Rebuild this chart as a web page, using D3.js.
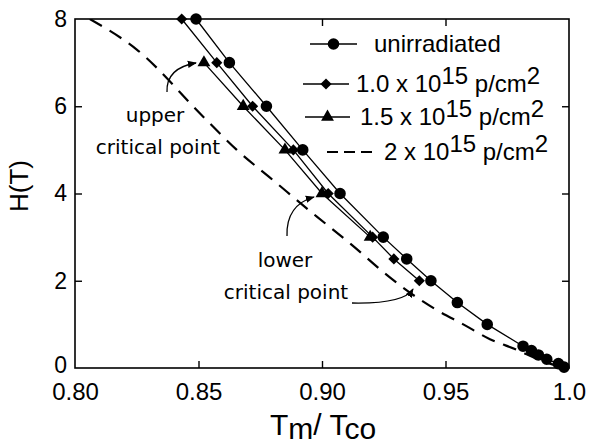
<!DOCTYPE html>
<html>
<head>
<meta charset="utf-8">
<script src="https://cdn.jsdelivr.net/npm/d3@7"></script>
<style>
  body { margin: 0; background: #fff; }
  svg { display: block; }
  text { font-family: Arial, "Liberation Sans", sans-serif; fill: #000; }
  .note { font-family: "DejaVu Sans", sans-serif; font-size: 20px; }
</style>
</head>
<body>
<div id="chart-container"></div>
<script>
// data: [Tm/Tco, H in tesla]
var unirradiated = [[0.849, 8], [0.8625, 7], [0.8775, 6], [0.8922, 5], [0.9073, 4],
    [0.9248, 3], [0.9343, 2.5], [0.9441, 2], [0.9548, 1.5], [0.9669, 1],
    [0.9814, 0.5], [0.9848, 0.4], [0.9876, 0.3], [0.991, 0.2], [0.9957, 0.1], [0.998, 0.02]];
var dose10 = [[0.8432, 8], [0.8574, 7], [0.8719, 6], [0.8884, 5], [0.9025, 4],
    [0.9205, 3], [0.9291, 2.5], [0.9394, 2]];
var dose15 = [[0.8522, 7], [0.8681, 6], [0.885, 5], [0.9, 4], [0.9195, 3]];
var dose20 = [[0.806, 8], [0.825, 7.3], [0.8519, 5.76], [0.8655, 5.0], [0.8803, 4.3],
    [0.8979, 3.47], [0.9113, 2.86], [0.9248, 2.2], [0.9343, 1.78], [0.9464, 1.33],
    [0.9572, 1.0], [0.968, 0.66], [0.9788, 0.42], [0.9883, 0.18], [0.997, 0.02]];

var xTicks = [0.80, 0.85, 0.90, 0.95, 1.0];
var xTickLabels = ["0.80", "0.85", "0.90", "0.95", "1.0"];
var yTicks = [0, 2, 4, 6, 8];
var legendLabels = [["unirradiated"], ["1.0 x 10", "15", " p/cm", "2"],
    ["1.5 x 10", "15", " p/cm", "2"], ["2 x 10", "15", " p/cm", "2"]];

var width = 590, height = 446;
var plotLeft = 75, plotRight = 569, plotTop = 19, plotBottom = 368;

var svg = d3.select("#chart-container").append("svg")
    .attr("width", width)
    .attr("height", height);

var x = d3.scaleLinear().domain([0.8, 1.0]).range([plotLeft, plotRight]);
var y = d3.scaleLinear().domain([0, 8]).range([plotBottom, plotTop]);

// frame
svg.append("rect")
    .attr("x", plotLeft).attr("y", plotTop)
    .attr("width", plotRight - plotLeft).attr("height", plotBottom - plotTop)
    .attr("fill", "none").attr("stroke", "#000").attr("stroke-width", 1.6);

// axes, ticks pointing inward
var xAxis = svg.append("g").attr("transform", "translate(0," + plotBottom + ")")
    .call(d3.axisBottom(x).tickValues(xTicks).tickSize(-7).tickPadding(15)
        .tickFormat(function(d, i) { return xTickLabels[i]; }));
var xAxisTop = svg.append("g").attr("transform", "translate(0," + plotTop + ")")
    .call(d3.axisTop(x).tickValues([0.90, 0.95]).tickSize(-7).tickFormat(""));
var yAxis = svg.append("g").attr("transform", "translate(" + plotLeft + ",0)")
    .call(d3.axisLeft(y).tickValues(yTicks).tickSize(-7).tickPadding(14));
var yAxisRight = svg.append("g").attr("transform", "translate(" + plotRight + ",0)")
    .call(d3.axisRight(y).tickValues([2, 4, 6]).tickSize(-7).tickFormat(""));

[xAxis, xAxisTop, yAxis, yAxisRight].forEach(function(g) {
    g.select(".domain").remove();
    g.selectAll(".tick line").attr("stroke", "#000").attr("stroke-width", 1.4);
    g.selectAll(".tick text").attr("font-size", 24).attr("font-family", "Arial, 'Liberation Sans', sans-serif");
});
xAxis.selectAll(".tick")
    .filter(function(d) { return d === 0.8 || d === 1.0; })
    .select("line").remove();
yAxis.selectAll(".tick")
    .filter(function(d) { return d === 0 || d === 8; })
    .select("line").remove();
yAxis.selectAll(".tick text").attr("font-size", 23).attr("x", -8);
yAxis.selectAll(".tick")
    .filter(function(d) { return d === 0; })
    .select("text").attr("dy", "0.2em");

// axis titles
var xt = svg.append("text")
    .attr("x", 323).attr("y", 435)
    .attr("text-anchor", "middle")
    .attr("font-size", 30);
xt.append("tspan").text("T");
xt.append("tspan").attr("dy", 4).text("m");
xt.append("tspan").attr("dy", -4).text("/ T");
xt.append("tspan").attr("dy", 4).text("co");

svg.append("text")
    .attr("transform", "translate(28,186) rotate(-90)")
    .attr("text-anchor", "middle")
    .attr("font-size", 26)
    .text("H(T)");

// series
var line = d3.line()
    .x(function(d) { return x(d[0]); })
    .y(function(d) { return y(d[1]); });
var curve = d3.line()
    .curve(d3.curveMonotoneX)
    .x(function(d) { return x(d[0]); })
    .y(function(d) { return y(d[1]); });

svg.append("clipPath").attr("id", "plot-clip")
    .append("rect").attr("x", plotLeft).attr("y", plotTop)
    .attr("width", plotRight - plotLeft).attr("height", plotBottom - plotTop);

svg.append("path").datum(dose20)
    .attr("d", curve)
    .attr("fill", "none").attr("stroke", "#000")
    .attr("stroke-width", 2.2).attr("stroke-dasharray", "14,9")
    .attr("clip-path", "url(#plot-clip)");

[unirradiated, dose10, dose15].forEach(function(s) {
    svg.append("path").datum(s)
        .attr("d", line)
        .attr("fill", "none").attr("stroke", "#000").attr("stroke-width", 1.3);
});

var circleSym = d3.symbol().type(d3.symbolCircle).size(105);
var diamondSym = d3.symbol().type(d3.symbolSquare).size(62);
var triangleSym = d3.symbol().type(d3.symbolTriangle).size(72);

function drawMarkers(s, sym, rot) {
    svg.append("g").selectAll("path")
        .data(s)
        .enter()
        .append("path")
        .attr("d", sym)
        .attr("transform", function(d) {
            return "translate(" + x(d[0]) + "," + y(d[1]) + ")" + (rot ? " rotate(45)" : "");
        })
        .attr("fill", "#000");
}
drawMarkers(dose15, triangleSym, false);
drawMarkers(dose10, diamondSym, true);
drawMarkers(unirradiated, circleSym, false);

// legend
var legendRows = [
    { y: 44, x1: 310, x2: 357, sym: circleSym, rot: false, dash: null, tx: 374 },
    { y: 84, x1: 303, x2: 349, sym: diamondSym, rot: true, dash: null, tx: 356 },
    { y: 117, x1: 305, x2: 350, sym: triangleSym, rot: false, dash: null, tx: 360 },
    { y: 152, x1: 327, x2: 377, sym: null, rot: false, dash: "11,6", tx: 384 }
];
legendRows.forEach(function(r, i) {
    svg.append("line")
        .attr("x1", r.x1).attr("x2", r.x2).attr("y1", r.y).attr("y2", r.y)
        .attr("stroke", "#000")
        .attr("stroke-width", r.dash ? 2.2 : 1.3)
        .attr("stroke-dasharray", r.dash);
    if (r.sym) {
        svg.append("path").attr("d", r.sym)
            .attr("transform", "translate(" + ((r.x1 + r.x2) / 2) + "," + r.y + ")" + (r.rot ? " rotate(45)" : ""));
    }
    var t = svg.append("text")
        .attr("x", r.tx).attr("y", r.y + 8)
        .attr("font-size", 24);
    var parts = legendLabels[i];
    t.append("tspan").text(parts[0]);
    if (parts.length > 1) {
        t.append("tspan").attr("dy", -8).text(parts[1]);
        t.append("tspan").attr("dy", 8).text(parts[2]);
        t.append("tspan").attr("dy", -8).text(parts[3]);
    }
});

// annotations with curved arrows
var defs = svg.append("defs");
defs.append("marker").attr("id", "head")
    .attr("viewBox", "0 0 10 10").attr("refX", 9).attr("refY", 5)
    .attr("markerWidth", 7).attr("markerHeight", 7)
    .attr("orient", "auto")
    .append("path").attr("d", "M0,1 L10,5 L0,9 Z").attr("fill", "#000");

var arrows = ["M167,92 Q166,68 196,63", "M287,236 Q286,205 314,197", "M352,303 Q404,304 413,289"];
arrows.forEach(function(p) {
    svg.append("path").attr("d", p)
        .attr("fill", "none").attr("stroke", "#000").attr("stroke-width", 1.3)
        .attr("marker-end", "url(#head)");
});

svg.append("text").attr("class", "note").attr("x", 155).attr("y", 122)
    .attr("text-anchor", "middle").text("upper");
svg.append("text").attr("class", "note").attr("x", 158).attr("y", 154)
    .attr("text-anchor", "middle").text("critical point");
svg.append("text").attr("class", "note").attr("x", 285).attr("y", 267)
    .attr("text-anchor", "middle").text("lower");
svg.append("text").attr("class", "note").attr("x", 286).attr("y", 299)
    .attr("text-anchor", "middle").text("critical point");
</script>
</body>
</html>
